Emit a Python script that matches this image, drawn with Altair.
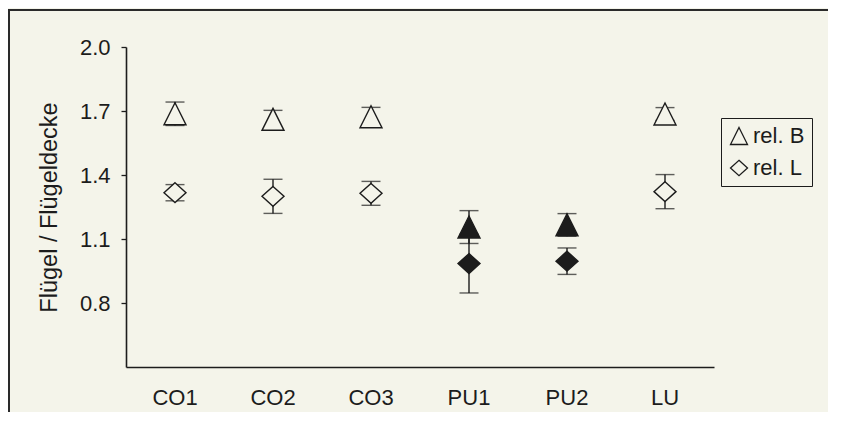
import altair as alt
import pandas as pd

groups = ["CO1", "CO2", "CO3", "PU1", "PU2", "LU"]
rel_b = [1.687, 1.661, 1.673, 1.156, 1.166, 1.686]
rel_b_err = [0.055, 0.042, 0.044, 0.077, 0.053, 0.030]
rel_l = [1.317, 1.300, 1.314, 0.985, 0.996, 1.322]
rel_l_err = [0.038, 0.080, 0.056, 0.138, 0.062, 0.080]
filled_groups = ["PU1", "PU2"]
series = ["rel. B", "rel. L"]
y_ticks = [0.8, 1.1, 1.4, 1.7, 2.0]

rows = []
for s, vals, errs in [(series[0], rel_b, rel_b_err), (series[1], rel_l, rel_l_err)]:
    for g, v, e in zip(groups, vals, errs):
        rows.append(dict(group=g, series=s, value=v, lo=v - e, hi=v + e,
                         solid="solid" if g in filled_groups else "open"))
df = pd.DataFrame(rows)

BG = "#f4f4ea"
INK = "#1c1c1c"
FONT = "Liberation Sans"
TRI = "M0,-1L1,1L-1,1Z"
DIA = "M0,-0.9L1,0L0,0.9L-1,0Z"

W, H = 588, 320

x = alt.X("group:N", sort=groups,
          scale=alt.Scale(paddingInner=0, paddingOuter=0),
          axis=alt.Axis(title=None, ticks=False, labelAngle=0, labelPadding=20,
                        labelFontSize=22, labelFont=FONT, labelColor=INK,
                        domainColor=INK, domainWidth=1.6))
y_scale = alt.Scale(domain=[0.5, 2.0], nice=False, zero=False)
y_axis = alt.Axis(title="Flügel / Flügeldecke", values=y_ticks, format=".1f",
                  grid=False, tickSize=5, tickColor=INK, tickWidth=1.3,
                  domainColor=INK, domainWidth=1.6, labelPadding=11,
                  labelFontSize=22, labelFont=FONT, labelColor=INK,
                  titleFontSize=23.5, titleFont=FONT, titleFontWeight="normal",
                  titleColor=INK, titlePadding=18)

base = alt.Chart(df)
frame_df = pd.DataFrame({"f": [0]})

frame_top = alt.Chart(frame_df).mark_rule(color="#2a2a2a", strokeWidth=2).encode(
    x=alt.value(-118), x2=alt.value(W + 140), y=alt.value(-37))
frame_left = alt.Chart(frame_df).mark_rule(color="#2a2a2a", strokeWidth=2).encode(
    x=alt.value(-117), y=alt.value(-38), y2=alt.value(H + 70))

rules = base.mark_rule(color=INK, strokeWidth=1.4).encode(
    x=x, y=alt.Y("lo:Q", scale=y_scale, axis=y_axis), y2="hi:Q")
caps_hi = base.mark_tick(color=INK, size=19, thickness=1.4, orient="horizontal").encode(
    x=x, y=alt.Y("hi:Q", scale=y_scale))
caps_lo = base.mark_tick(color=INK, size=19, thickness=1.4, orient="horizontal").encode(
    x=x, y=alt.Y("lo:Q", scale=y_scale))
points = base.mark_point(filled=True, stroke=INK, strokeWidth=1.4, opacity=1).encode(
    x=x,
    y=alt.Y("value:Q", scale=y_scale),
    shape=alt.Shape("series:N", scale=alt.Scale(domain=series, range=[TRI, DIA]),
                    legend=alt.Legend(title=None, orient="none", legendX=595, legendY=71,
                                      strokeColor=INK, fillColor=BG, padding=7,
                                      labelFontSize=22, labelFont=FONT, labelColor=INK,
                                      symbolSize=289, symbolFillColor=BG,
                                      symbolStrokeColor=INK, symbolStrokeWidth=1.3,
                                      symbolOpacity=1, rowPadding=9, labelOffset=3)),
    fill=alt.Fill("solid:N", scale=alt.Scale(domain=["open", "solid"], range=[BG, INK]),
                  legend=None),
    size=alt.value(484),
)

chart = alt.layer(frame_top, frame_left, rules, caps_hi, caps_lo, points).properties(
    width=W, height=H,
    autosize=alt.AutoSizeParams(type="none"),
    padding={"left": 118, "top": 39, "right": 114, "bottom": 45},
    background=BG,
).configure_view(stroke=None)

chart.save("out.html", embed_options={"renderer": "svg", "actions": False})
